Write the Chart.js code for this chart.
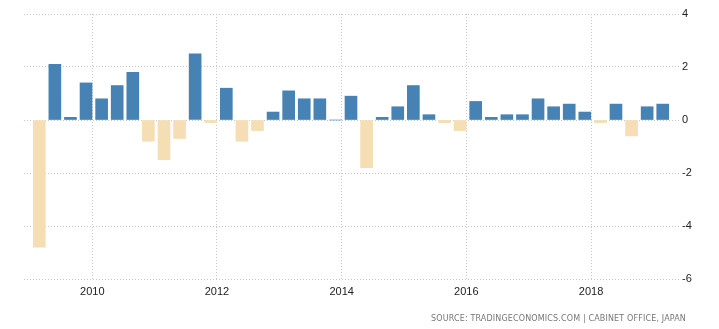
<!DOCTYPE html>
<html>
<head>
<meta charset="utf-8">
<script src="https://cdn.jsdelivr.net/npm/chart.js@4/dist/chart.umd.min.js"></script>
<style>
  html, body { margin: 0; padding: 0; background: #fff; }
  #wrap { position: relative; width: 719px; height: 329px; }
  #source {
    position: absolute; right: 33px; top: 314px;
    font: 8px "DejaVu Sans", sans-serif; line-height: 10px;
    color: #777; letter-spacing: 0.15px; white-space: nowrap;
  }
</style>
</head>
<body>
<div id="wrap">
  <canvas id="gdpChart" width="719" height="329"></canvas>
  <div id="source">SOURCE: TRADINGECONOMICS.COM | CABINET OFFICE, JAPAN</div>
</div>
<script>
// Japan GDP growth rate, quarter on quarter (%)
const quarters = [
  '2009 Q1', '2009 Q2', '2009 Q3', '2009 Q4',
  '2010 Q1', '2010 Q2', '2010 Q3', '2010 Q4',
  '2011 Q1', '2011 Q2', '2011 Q3', '2011 Q4',
  '2012 Q1', '2012 Q2', '2012 Q3', '2012 Q4',
  '2013 Q1', '2013 Q2', '2013 Q3', '2013 Q4',
  '2014 Q1', '2014 Q2', '2014 Q3', '2014 Q4',
  '2015 Q1', '2015 Q2', '2015 Q3', '2015 Q4',
  '2016 Q1', '2016 Q2', '2016 Q3', '2016 Q4',
  '2017 Q1', '2017 Q2', '2017 Q3', '2017 Q4',
  '2018 Q1', '2018 Q2', '2018 Q3', '2018 Q4',
  '2019 Q1'
];
const growth = [
  -4.8, 2.1, 0.1, 1.4,
  0.8, 1.3, 1.8, -0.8,
  -1.5, -0.7, 2.5, -0.1,
  1.2, -0.8, -0.4, 0.3,
  1.1, 0.8, 0.8, 0.0,
  0.9, -1.8, 0.1, 0.5,
  1.3, 0.2, -0.1, -0.4,
  0.7, 0.1, 0.2, 0.2,
  0.8, 0.5, 0.6, 0.3,
  -0.1, 0.6, -0.6, 0.5,
  0.6
];
const yearTicks = [2010, 2012, 2014, 2016, 2018];
const valueTicks = [4, 2, 0, -2, -4, -6];

// place each quarter on a decimal-year axis
function quarterToYear(label) {
    const [year, q] = label.split(' Q');
    return Number(year) + (Number(q) - 1) / 4 + 0.15;
}

const points = quarters.map((label, i) => ({ x: quarterToYear(label), y: growth[i] }));

const tickFont = { family: '"Liberation Sans", Arial, sans-serif', size: 11 };
const gridGray = '#c8c8c8';

const ctx = document.getElementById('gdpChart').getContext('2d');
const chart = new Chart(ctx, {
    type: 'bar',
    data: {
        datasets: [{
            label: 'GDP Growth Rate',
            data: points,
            backgroundColor: points.map(p => p.y < 0 ? '#F5DEB3' : '#4682B4'),
            barThickness: 12,
            borderWidth: 0
        }]
    },
    options: {
        responsive: false,
        animation: false,
        layout: { padding: { left: 24, top: 14, right: 0, bottom: 0 } },
        plugins: {
            legend: { display: false },
            tooltip: { enabled: false }
        },
        scales: {
            x: {
                type: 'linear',
                offset: false,
                min: 2008.905,
                max: 2019.427,
                afterBuildTicks: (scale) => {
                    scale.ticks = yearTicks.map(v => ({ value: v }));
                },
                afterFit: (scale) => { scale.height = 50; },
                ticks: {
                    autoSkip: false,
                    maxRotation: 0,
                    padding: 6,
                    color: '#222',
                    font: tickFont,
                    callback: (value) => String(value)
                },
                grid: { offset: false, color: gridGray, drawTicks: false },
                border: { display: false, dash: [1, 2] }
            },
            y: {
                position: 'right',
                min: -6,
                max: 4,
                afterBuildTicks: (scale) => {
                    scale.ticks = valueTicks.map(v => ({ value: v }));
                },
                afterFit: (scale) => { scale.width = 39; },
                ticks: {
                    padding: 2,
                    color: '#222',
                    font: tickFont
                },
                grid: {
                    color: (c) => c.tick && c.tick.value === 0 ? '#b9cde0' : gridGray,
                    drawTicks: false
                },
                border: { display: false, dash: [1, 2] }
            }
        }
    }
});
</script>
</body>
</html>
